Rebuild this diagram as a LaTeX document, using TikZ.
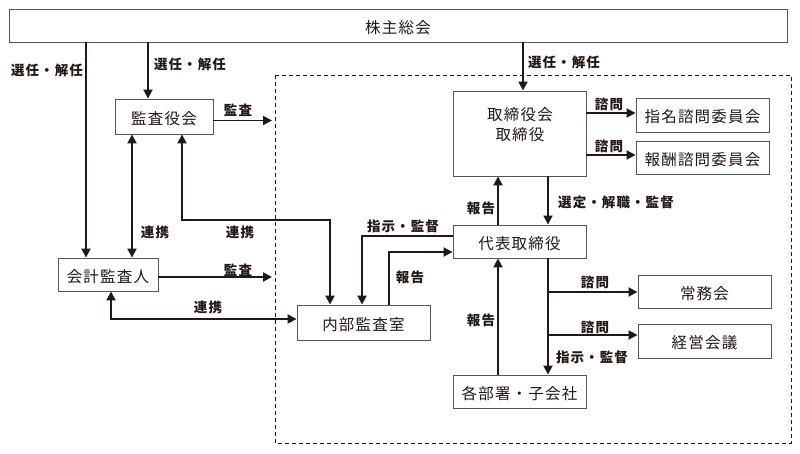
\documentclass[tikz,border=0pt]{standalone}
\usepackage{fontspec}
\newfontfamily\jpbox[LetterSpace=8]{Noto Sans CJK JP}
\newfontfamily\jplab[LetterSpace=8]{Noto Sans CJK JP}
\usetikzlibrary{arrows.meta,calc}
\definecolor{ink}{RGB}{35,24,21}
\definecolor{bordergray}{RGB}{89,87,87}
\begin{document}
\begin{tikzpicture}[x=1pt,y=-1pt,
  box/.style={draw=bordergray,line width=0.9pt,fill=white,inner sep=0pt,
    font=\jpbox\fontsize{15.5}{20}\selectfont,text=ink,text height=15.8pt,text depth=0pt},
  boxtext/.style={inner sep=0pt,font=\jpbox\fontsize{15.5}{20}\selectfont,text=ink,align=center},
  lbl/.style={font=\jplab\bfseries\fontsize{13.5}{15}\selectfont,text=ink,inner sep=0pt,text height=10.3pt,text depth=0pt},
  conn/.style={draw=ink,line width=1.9pt,-{Triangle[length=9pt,width=9pt]}},
  connboth/.style={draw=ink,line width=1.9pt,{Triangle[length=9pt,width=9pt]}-{Triangle[length=9pt,width=9pt]}},
  dashbox/.style={draw=ink,line width=0.8pt,dash pattern=on 4pt off 3pt}]
\path[use as bounding box] (0,0) rectangle (800,453);
\fill[white] (0,0) rectangle (800,453);

% dashed executive area
\draw[dashbox] (275,75) rectangle (791,443);

% boxes
\node[box,minimum width=778pt,minimum height=33pt] (top) at (398,25.5) {株主総会};
\node[box,minimum width=98pt,minimum height=35pt] (kansa) at (164,116.5) {監査役会};
\node[box,minimum width=100pt,minimum height=33pt] (kaikei) at (108,274.5) {会計監査人};
\node[box,minimum width=133pt,minimum height=85pt] (torikai) at (519.5,133.5) {};
\node[boxtext] (torikaitext) at (520,125) {取締役会\\取締役};
\node[box,minimum width=133pt,minimum height=34pt] (shimei) at (702.5,115) {指名諮問委員会};
\node[box,minimum width=133pt,minimum height=33pt] (houshu) at (702.5,157.5) {報酬諮問委員会};
\node[box,minimum width=133pt,minimum height=33pt] (daihyo) at (519.5,241.5) {代表取締役};
\node[box,minimum width=133pt,minimum height=33pt] (joumu) at (704.5,291.5) {常務会};
\node[box,minimum width=133pt,minimum height=34pt] (keiei) at (704.5,341) {経営会議};
\node[box,minimum width=133pt,minimum height=33pt] (kakubu) at (519.5,391.5) {各部署・子会社};
\node[box,minimum width=133pt,minimum height=35pt] (naibu) at (363.5,322.5) {内部監査室};

% helper coordinates
\coordinate (colA) at (86,0);
\coordinate (colB) at (148,0);
\coordinate (colC) at (523,0);
\coordinate (colD) at (132,0);
\coordinate (colF) at (330,0);
\coordinate (colJ) at (498,0);
\coordinate (colK) at (548,0);
\coordinate (kansaOut) at (272,120.5);
\coordinate (kaikeiOut) at (272,277);
\coordinate (bendE) at (182,220);
\coordinate (bendG) at (111,319);
\coordinate (bendH) at (362,236);
\coordinate (bendI) at (389,252);
\coordinate (rowL) at (0,113);
\coordinate (rowM) at (0,155);
\coordinate (rowN) at (0,292);
\coordinate (rowO) at (0,335);

% connectors
\draw[conn] (top.south -| colA) -- (kaikei.north -| colA);
\draw[conn] (top.south -| colB) -- (kansa.north -| colB);
\draw[conn] (top.south -| colC) -- (torikai.north -| colC);
\draw[conn] (kansa.east |- kansaOut) -- (kansaOut);
\draw[conn] (kaikei.east |- kaikeiOut) -- (kaikeiOut);
\draw[connboth] (kansa.south -| colD) -- (kaikei.north -| colD);
\draw[connboth] (kansa.south -| bendE) -- (bendE) -| (naibu.north -| colF);
\draw[connboth] (kaikei.south -| bendG) -- (bendG) -- (naibu.west |- bendG);
\draw[conn] (daihyo.west |- bendH) -- (bendH) -- (naibu.north -| bendH);
\draw[conn] (naibu.north -| bendI) -- (bendI) -- (daihyo.west |- bendI);
\draw[conn] (daihyo.north -| colJ) -- (torikai.south -| colJ);
\draw[conn] (torikai.south -| colK) -- (daihyo.north -| colK);
\draw[conn] (kakubu.north -| colJ) -- (daihyo.south -| colJ);
\draw[conn] (daihyo.south -| colK) -- (kakubu.north -| colK);
\draw[conn] (torikai.east |- rowL) -- (shimei.west |- rowL);
\draw[conn] (torikai.east |- rowM) -- (houshu.west |- rowM);
\draw[conn] (colK |- rowN) -- (joumu.west |- rowN);
\draw[conn] (colK |- rowO) -- (keiei.west |- rowO);

% labels
\node[lbl] (l1) at (47,70) {選任・解任};
\node[lbl] (l2) at (190,64) {選任・解任};
\node[lbl] (l3) at (564,62) {選任・解任};
\node[lbl] (l4) at (238,110) {監査};
\node[lbl] (l5) at (238,270) {監査};
\node[lbl] (l6) at (155,232) {連携};
\node[lbl] (l7) at (240,232) {連携};
\node[lbl] (l8) at (208,307) {連携};
\node[lbl] (l9) at (403,226) {指示・監督};
\node[lbl] (l10) at (410,277) {報告};
\node[lbl] (l11) at (481,208) {報告};
\node[lbl] (l12) at (616,202) {選定・解職・監督};
\node[lbl] (l13) at (609,104) {諮問};
\node[lbl] (l14) at (609,146) {諮問};
\node[lbl] (l15) at (595,282) {諮問};
\node[lbl] (l16) at (595,327) {諮問};
\node[lbl] (l17) at (592,357) {指示・監督};
\node[lbl] (l18) at (481,320) {報告};
\end{tikzpicture}
\end{document}
